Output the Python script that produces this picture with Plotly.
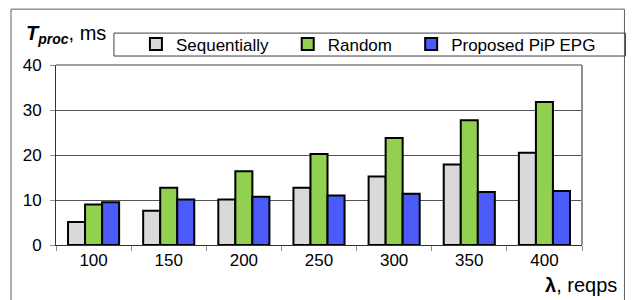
import plotly.graph_objects as go

categories = ["100", "150", "200", "250", "300", "350", "400"]
sequential = [5.1, 7.6, 10.1, 12.7, 15.2, 17.9, 20.5]
random_vals = [9.0, 12.7, 16.4, 20.2, 23.8, 27.7, 31.8]
proposed = [9.5, 10.1, 10.7, 11.0, 11.4, 11.8, 12.0]
y_ticks = [0, 10, 20, 30, 40]

series = [
    ("Sequentially\u00a0\u00a0\u00a0", sequential, "#D9D9D9"),
    ("Random\u00a0\u00a0\u00a0", random_vals, "#92D050"),
    ("Proposed PiP EPG", proposed, "#4A5BFA"),
]

FONT = "Liberation Sans, Arial, sans-serif"

fig = go.Figure()
for name, vals, col in series:
    fig.add_trace(go.Bar(
        x=categories, y=vals, name=name,
        marker=dict(color=col, line=dict(color="black", width=2)),
    ))

# page body has an 8px margin: screen coords = figure coords + 8
OFF = 8
FW, FH = 635 - OFF, 300 - OFF
# plot area in screen coords: x 56..582.5, y 65..245.5
L, R, T, B = 56, 582.5, 65, 245.5
W, H = R - L, B - T
def px(x):
    return (x - L) / W
def py(y):
    return (B - y) / H

fig.update_layout(
    width=FW, height=FH,
    margin=dict(l=L - OFF, r=FW - (R - OFF), t=T - OFF, b=FH - (B - OFF), pad=0, autoexpand=False),
    paper_bgcolor="white", plot_bgcolor="white",
    font=dict(family=FONT, size=17, color="black"),
    barmode="group", bargap=0.32, bargroupgap=0,
    showlegend=True,
    legend=dict(
        orientation="h", x=px(136), y=py(44.5), xanchor="left", yanchor="middle",
        bgcolor="rgba(0,0,0,0)", borderwidth=0,
        font=dict(family=FONT, size=17), itemclick=False, itemdoubleclick=False,
    ),
    xaxis=dict(
        type="category", showgrid=False, showline=True, linecolor="#333333", linewidth=1,
        ticks="outside", tickson="boundaries", ticklen=5, tickcolor="#909090",
        tickfont=dict(family=FONT, size=17), fixedrange=True,
    ),
    yaxis=dict(
        range=[0, 40], tickvals=y_ticks, showgrid=True, gridcolor="#555555", gridwidth=1,
        showline=True, linecolor="#333333", linewidth=1, zeroline=False,
        ticks="outside", ticklen=5, tickcolor="#909090", ticklabelstandoff=5,
        tickfont=dict(family=FONT, size=17), fixedrange=True,
    ),
    shapes=[
        # outer frame
        dict(type="rect", xref="paper", yref="paper", x0=px(11), x1=px(625), y0=py(320), y1=py(9),
             line=dict(color="#606060", width=1), fillcolor="rgba(0,0,0,0)", layer="below"),
        # legend box
        dict(type="rect", xref="paper", yref="paper", x0=px(114), x1=px(626), y0=py(56), y1=py(33),
             line=dict(color="#404040", width=1), fillcolor="rgba(0,0,0,0)"),
        # plot area top and right border
        dict(type="line", xref="paper", yref="paper", x0=0, x1=1, y0=1, y1=1,
             line=dict(color="#A0A0A0", width=2)),
        dict(type="line", xref="paper", yref="paper", x0=1, x1=1, y0=0, y1=1,
             line=dict(color="#909090", width=2)),
    ],
    annotations=[
        dict(text="<b><i>T</i></b><sub><b><i>proc</i></b></sub>, ms", xref="paper", yref="paper",
             x=px(24), y=py(34), xanchor="left", yanchor="middle", showarrow=False,
             font=dict(family=FONT, size=20)),
        dict(text="<b>λ</b>, reqps", xref="paper", yref="paper",
             x=px(620), y=py(286), xanchor="right", yanchor="middle", showarrow=False,
             font=dict(family=FONT, size=20)),
    ],
)

fig.write_html("out.html")
